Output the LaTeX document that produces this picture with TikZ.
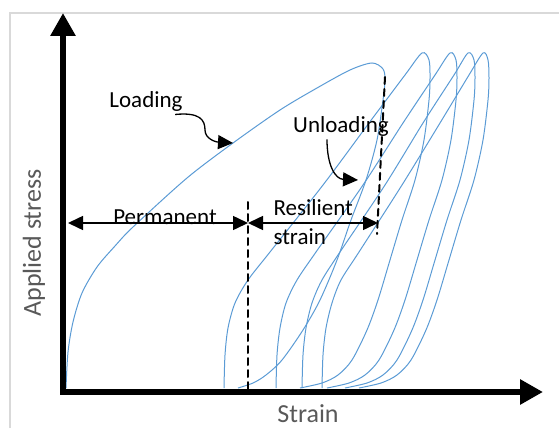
\documentclass[tikz,border=0pt]{standalone}
\usepackage{fontspec}
\setmainfont{Carlito}
\usepackage{tikz}
\usepackage{tkz-euclide}
\usepackage{xcolor}
\usetikzlibrary{arrows.meta}

\definecolor{curveblue}{HTML}{5B9BD5}
\definecolor{framegray}{HTML}{D9D9D9}
\definecolor{labelgray}{HTML}{595959}

\tikzset{
  axisline/.style={line width=6pt, line join=miter,
    {Triangle[length=23pt,width=24pt]}-{Triangle[length=23pt,width=24pt]}},
  loopcurve/.style={curveblue, line width=1pt},
  dimarrow/.style={line width=1.5pt,
    {Triangle[length=15pt,width=14pt]}-{Triangle[length=15pt,width=14pt]}},
  pointer/.style={line width=1.3pt, -{Triangle[length=15pt,width=14pt]}},
  strainline/.style={line width=2pt, dash pattern=on 7pt off 5pt},
  lbl/.style={font=\fontsize{23}{29}\selectfont},
  axislbl/.style={font=\fontsize{26}{31}\selectfont, text=labelgray},
}

\begin{document}
\begin{tikzpicture}[x=1pt, y=-1pt]
    \useasboundingbox (0,0) rectangle (559,428);
    \draw[framegray, line width=1.5pt] (10,428) -- (10,13) -- (559,13);

    \tkzDefPoint(63,392){O}
    \tkzDefPoint(543,392){X}
    \tkzDefPoint(63,13){Y}
    \tkzDefPoint(68,223){P}
    \tkzDefPoint(248,223){Q}
    \tkzDefPoint(378,223){R}
    \tkzDefPoint(248,202){A}
    \tkzDefPoint(248,392){B}
    \tkzDefPoint(385,77){C}
    \tkzDefPoint(377,234){D}
    \tkzDefPoint(233,143){L}
    \tkzDefPoint(358,180){U}

    % load / unload cycles
    \draw[loopcurve] plot[smooth] coordinates {(66,388) (68,352) (73,322) (82,293)
      (97,267) (115,246) (133,227) (187,178) (233,143) (280,110) (317,88) (350,70)
      (372,63) (383,69) (385,80) (383,100) (377,140) (366,180) (351,220) (337,260)
      (320,300) (303,330) (282,360) (266,375) (253,383) (238,388)};
    \draw[loopcurve] plot[smooth] coordinates {(224,388) (225,355) (228,328)
      (235,303) (248,280) (270,252) (323,185) (369,123) (405,75) (422,53) (429,60)
      (430,78) (429,100) (424,140) (415,180) (402,220) (390,260) (378,300)
      (367,330) (352,360) (338,375) (322,383) (300,388)};
    \draw[loopcurve] plot[smooth] coordinates {(276,388) (277,355) (280,328)
      (286,303) (297,280) (316,252) (363,185) (403,123) (435,75) (450,53) (456,60)
      (457,78) (456,100) (451,140) (442,180) (429,220) (417,260) (405,300)
      (394,330) (379,360) (365,375) (349,383) (327,388)};
    \draw[loopcurve] plot[smooth] coordinates {(302,388) (303,355) (306,328)
      (312,303) (322,280) (340,252) (385,185) (423,123) (454,75) (468,53) (474,60)
      (475,78) (474,100) (469,140) (460,180) (447,220) (435,260) (423,300)
      (412,330) (397,360) (383,375) (367,383) (345,388)};
    \draw[loopcurve] plot[smooth] coordinates {(322,388) (323,355) (326,328)
      (332,303) (341,280) (359,252) (402,185) (440,123) (469,75) (483,53) (488,60)
      (489,78) (488,100) (483,140) (474,180) (461,220) (449,260) (437,300)
      (426,330) (411,360) (397,375) (381,383) (359,388)};

    % axes
    \draw[axisline] (X) -- (O) -- (Y);
    \node[axislbl, rotate=90] (stress) at (34,243) {Applied stress};
    \node[axislbl, anchor=base] (strain) at (308,422) {Strain};

    % strain split
    \tkzDrawSegments[strainline](A,B C,D)
    \draw[dimarrow] (P) -- (Q);
    \draw[dimarrow] (Q) -- (R);
    \node[lbl, anchor=base] (perm) at (165,224) {Permanent};
    \node[lbl, anchor=base west, align=left] (resil) at (270,244) {Resilient\\strain};

    \node[lbl, anchor=base] (loading) at (146,107) {Loading};
    \draw[pointer] ([xshift=-11pt]loading.south east)
      .. controls (200,112) and (205,120) .. (205,130)
      .. controls (205,139) and (216,142) .. (L);
    \node[lbl, anchor=base] (unloading) at (341,132) {Unloading};
    \draw[pointer] ([xshift=-14pt]unloading.south)
      .. controls (327,165) and (335,179) .. (U);
\end{tikzpicture}
\end{document}
